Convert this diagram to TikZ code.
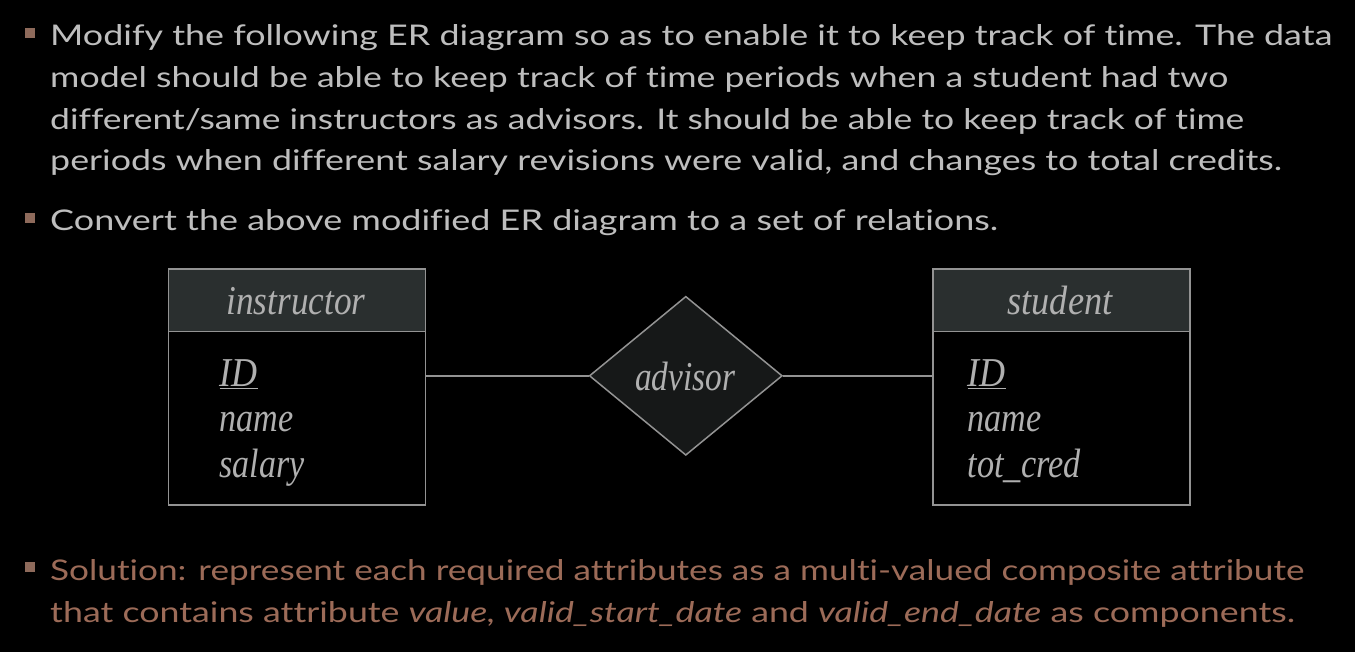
\documentclass[tikz,border=0pt]{standalone}
\usepackage{fontspec}
\usetikzlibrary{shapes.geometric}
\newfontfamily\bodyfont{Lato}[Ligatures={NoCommon}]
\newfontfamily\erfont{Liberation Serif}
\definecolor{bgc}{HTML}{000000}
\definecolor{bodytext}{HTML}{BEBEBE}
\definecolor{soltext}{HTML}{9C6B58}
\definecolor{bulletc}{HTML}{8E6A5B}
\definecolor{headc}{HTML}{2A2F2F}
\definecolor{diac}{HTML}{161818}
\definecolor{ertextc}{HTML}{B0B0B0}
\definecolor{borderc}{HTML}{939393}
\newlength\fitw
\newcommand\fitto[2]{\settowidth\fitw{#2}\pgfmathsetmacro\fitr{#1/\fitw}\scalebox{\fitr}[1]{#2}}
\begin{document}
\begin{tikzpicture}[x=1pt,y=-1pt,
  bodyline/.style={anchor=base west, inner sep=0pt, text=bodytext, font=\bodyfont\fontsize{28.5}{34}\selectfont},
  solline/.style={bodyline, text=soltext},
  bulletsq/.style={fill=bulletc, minimum size=10pt, inner sep=0pt},
  ertext/.style={inner sep=0pt, text=ertextc, font=\erfont\itshape\fontsize{41}{48}\selectfont},
  entbody/.style={draw=borderc, line width=1.5pt, fill=black, minimum width=257pt, minimum height=236pt, inner sep=0pt},
  enthead/.style={draw=borderc, line width=1.5pt, fill=headc, minimum width=257pt, minimum height=62.5pt, inner sep=0pt},
  relshape/.style={diamond, draw=borderc, line width=1.5pt, fill=diac, minimum width=193pt, minimum height=159pt, inner sep=0pt},
  conn/.style={draw=borderc, line width=1.5pt}]
\useasboundingbox (0,0) rectangle (1355,652);
\fill[bgc] (0,0) rectangle (1355,652);

% bullets
\node[bulletsq] (b1) at (30,33) {};
\node[bulletsq] (b2) at (30,218) {};
\node[bulletsq] (b3) at (30,567) {};

% body text
\node[bodyline] (l1) at (50,45.7) {\fitto{1282}{Modify the following ER diagram so as to enable it to keep track of time. The data}};
\node[bodyline] (l2) at (50,87.5) {\fitto{1178}{model should be able to keep track of time periods when a student had two}};
\node[bodyline] (l3) at (50,129.3) {\fitto{1194}{different/same instructors as advisors. It should be able to keep track of time}};
\node[bodyline] (l4) at (50,171) {\fitto{1232}{periods when different salary revisions were valid, and changes to total credits.}};
\node[bodyline] (l5) at (50,230.5) {\fitto{948}{Convert the above modified ER diagram to a set of relations.}};

\node[solline] (s1) at (50,580) {\fitto{1254}{Solution: represent each required attributes as a multi-valued composite attribute}};
\node[solline] (s2) at (50,622) {\fitto{1245}{that contains attribute \textit{value, valid\_start\_date} and \textit{valid\_end\_date} as components.}};

% instructor entity
\node[entbody] (ibox) at (297,387) {};
\node[enthead] (ihead) at (297,300.5) {};
\node[ertext, anchor=base] (iname) at (296,315) {\fitto{139}{instructor}};
\node[ertext, anchor=base west] (iid) at (219.5,386.7) {\fitto{38}{\underline{ID}}};
\node[ertext, anchor=base west] (inm) at (219.5,431.7) {\fitto{74}{name}};
\node[ertext, anchor=base west] (isal) at (219.5,477.5) {\fitto{85}{salary}};

% student entity
\node[entbody] (sbox) at (1061.3,387) {};
\node[enthead] (shead) at (1061.3,300.5) {};
\node[ertext, anchor=base] (sname) at (1060,314.5) {\fitto{105}{student}};
\node[ertext, anchor=base west] (sid) at (967.5,386.7) {\fitto{38}{\underline{ID}}};
\node[ertext, anchor=base west] (snm) at (967.5,431.7) {\fitto{74}{name}};
\node[ertext, anchor=base west] (stc) at (967.5,477.5) {\fitto{113}{tot\_cred}};

% relationship
\node[relshape] (adv) at (685.8,375.8) {};
\node[ertext, anchor=base] (advt) at (685,390) {\fitto{100}{advisor}};

% connectors
\draw[conn] (ibox.east |- adv.west) -- (adv.west);
\draw[conn] (adv.east) -- (sbox.west |- adv.east);
\end{tikzpicture}
\end{document}
